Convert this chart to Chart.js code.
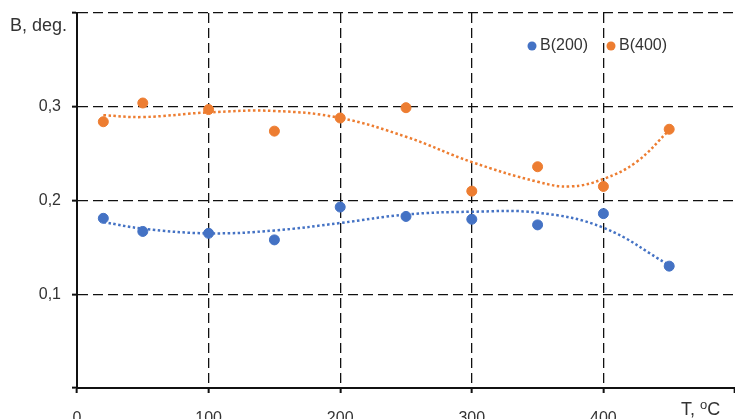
<!DOCTYPE html>
<html>
<head>
<meta charset="utf-8">
<script src="https://cdn.jsdelivr.net/npm/chart.js@4.4.1/dist/chart.umd.min.js"></script>
<style>
  html, body { margin: 0; padding: 0; background: #fff; }
  #wrap { width: 735px; height: 419px; }
</style>
</head>
<body>
<div id="wrap"><canvas id="chart" width="735" height="419"></canvas></div>
<script>
// Measured points
const temps = [20, 50, 100, 150, 200, 250, 300, 350, 400, 450];
const b200 = [0.181, 0.167, 0.165, 0.158, 0.193, 0.183, 0.180, 0.174, 0.186, 0.130];
const b400 = [0.284, 0.304, 0.297, 0.274, 0.288, 0.299, 0.210, 0.236, 0.215, 0.276];

// Trend lines
const trend200T = [20, 50, 100, 150, 200, 250, 300, 350, 400, 450];
const trend200 = [0.177, 0.170, 0.165, 0.168, 0.176, 0.185, 0.188, 0.187, 0.171, 0.131];
const trend400T = [20, 50, 100, 150, 200, 250, 300, 350, 375, 400, 425, 450];
const trend400 = [0.291, 0.289, 0.294, 0.2955, 0.288, 0.268, 0.241, 0.220, 0.215, 0.223, 0.241, 0.275];

// Axis ticks
const xTicks = [0, 100, 200, 300, 400];
const yTicks = [0.1, 0.2, 0.3];

const BLUE = '#4472C4';
const ORANGE = '#ED7D31';
const FONT = '"Liberation Sans", Arial, sans-serif';

const toXY = (xs, ys) => xs.map((x, i) => ({ x: x, y: ys[i] }));

// Legend and axis titles drawn on top
const labelsPlugin = {
    id: 'labels',
    afterDraw(chart) {
        const ctx = chart.ctx;
        ctx.save();
        ctx.fillStyle = '#333';
        ctx.textBaseline = 'alphabetic';

        // y axis title
        ctx.font = '18px ' + FONT;
        ctx.fillText('B, deg.', 10, 31);

        // x axis title with superscript o
        ctx.font = '18px ' + FONT;
        let x = 681;
        ctx.fillText('T, ', x, 415);
        x += ctx.measureText('T, ').width;
        ctx.font = '13px ' + FONT;
        ctx.fillText('o', x, 409);
        x += ctx.measureText('o').width;
        ctx.font = '18px ' + FONT;
        ctx.fillText('C', x, 415);

        // legend
        const items = [
            { label: 'B(200)', color: BLUE, x: 532 },
            { label: 'B(400)', color: ORANGE, x: 611 }
        ];
        ctx.font = '16px ' + FONT;
        ctx.textBaseline = 'middle';
        items.forEach(item => {
            ctx.fillStyle = item.color;
            ctx.beginPath();
            ctx.arc(item.x, 46, 4.5, 0, Math.PI * 2);
            ctx.fill();
            ctx.fillStyle = '#333';
            ctx.fillText(item.label, item.x + 8, 46);
        });
        ctx.restore();
    }
};

new Chart(document.getElementById('chart'), {
    type: 'scatter',
    data: {
        datasets: [
            {
                label: 'B(200)',
                data: toXY(temps, b200),
                backgroundColor: BLUE,
                borderColor: BLUE,
                pointRadius: 5,
                showLine: false
            },
            {
                label: 'B(400)',
                data: toXY(temps, b400),
                backgroundColor: ORANGE,
                borderColor: ORANGE,
                pointRadius: 5,
                showLine: false
            },
            {
                label: 'trend 200',
                data: toXY(trend200T, trend200),
                borderColor: BLUE,
                borderWidth: 2.5,
                borderDash: [2.5, 2.5],
                pointRadius: 0,
                showLine: true,
                tension: 0.4
            },
            {
                label: 'trend 400',
                data: toXY(trend400T, trend400),
                borderColor: ORANGE,
                borderWidth: 2.5,
                borderDash: [2.5, 2.5],
                pointRadius: 0,
                showLine: true,
                tension: 0.4
            }
        ]
    },
    options: {
        responsive: false,
        animation: false,
        layout: { autoPadding: false, padding: { top: 13, right: 0, left: 0, bottom: 0 } },
        plugins: {
            legend: { display: false },
            tooltip: { enabled: false }
        },
        scales: {
            x: {
                type: 'linear',
                min: 0,
                max: 500,
                afterFit: scale => {
                    scale.height = 31;
                    scale.paddingLeft = 0;
                    scale.paddingRight = 0;
                },
                ticks: {
                    stepSize: 100,
                    padding: 16,
                    color: '#333',
                    font: { family: FONT, size: 16 },
                    callback: v => xTicks.includes(v) ? String(v) : ''
                },
                grid: {
                    color: ctx => (ctx.tick && ctx.tick.value === 500) ? 'rgba(0,0,0,0)' : '#111',
                    lineWidth: 1.3,
                    tickLength: 5,
                    tickColor: '#111',
                    tickWidth: 2,
                    tickBorderDash: []
                },
                border: { display: true, color: '#111', width: 2, dash: [10, 5] }
            },
            y: {
                min: 0,
                max: 0.4,
                afterFit: scale => {
                    scale.width = 77;
                    scale.paddingTop = 0;
                    scale.paddingBottom = 0;
                },
                ticks: {
                    stepSize: 0.1,
                    padding: 11,
                    color: '#333',
                    font: { family: FONT, size: 16 },
                    callback: v => {
                        const r = Math.round(v * 10) / 10;
                        return yTicks.includes(r) ? r.toFixed(1).replace('.', ',') : '';
                    }
                },
                grid: {
                    color: '#111',
                    lineWidth: 1.3,
                    tickLength: 5,
                    tickColor: '#111',
                    tickWidth: 2,
                    tickBorderDash: []
                },
                border: { display: true, color: '#111', width: 2, dash: [10, 5] }
            }
        }
    },
    plugins: [labelsPlugin]
});
</script>
</body>
</html>
